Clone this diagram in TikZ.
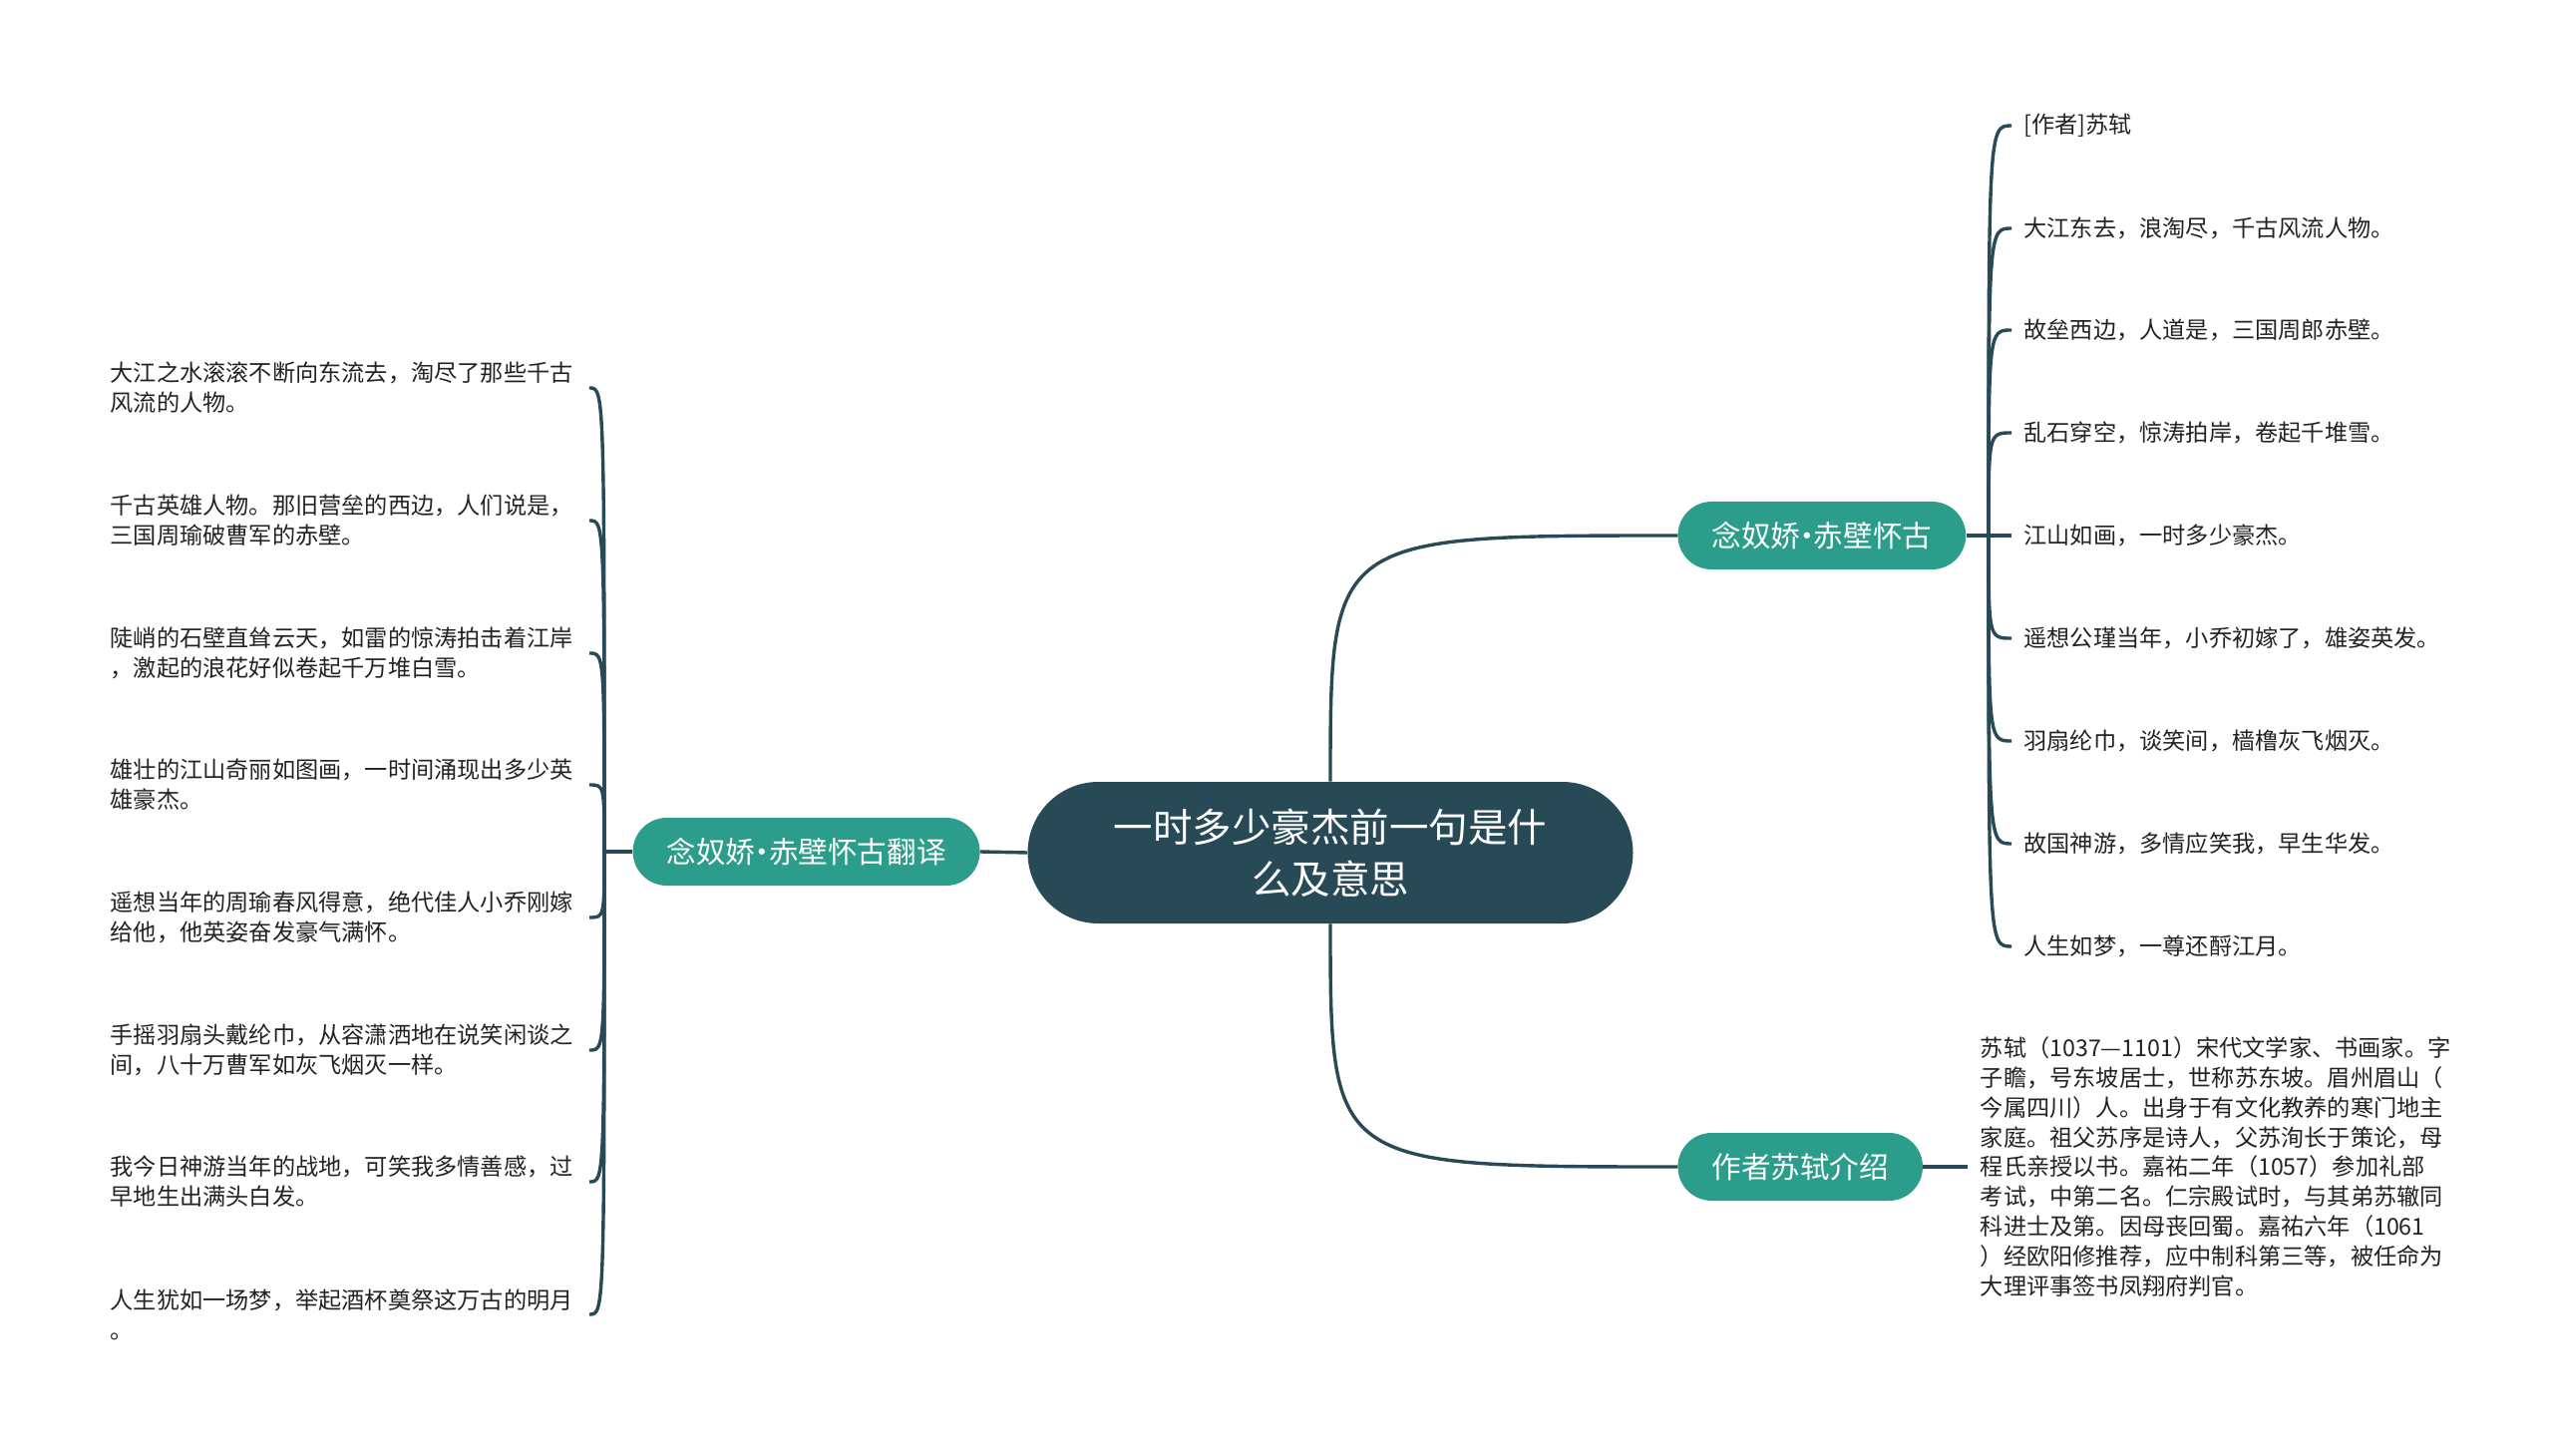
\documentclass[tikz,border=0pt]{standalone}
\usepackage{fontspec}
\setmainfont{Noto Sans CJK SC}
\usetikzlibrary{positioning}
\definecolor{HubSlate}{RGB}{40,74,86}
\definecolor{BranchTeal}{RGB}{43,157,138}
\definecolor{LeafInk}{RGB}{34,34,34}
\newcommand{\middot}{\kern-0.27em·\kern-0.27em}

\begin{document}
\begin{tikzpicture}[x=0.5pt,y=-0.5pt,
    hub/.style={rounded corners=35.5pt,fill=HubSlate,text=white,align=center,
                font=\fontsize{19.75pt}{26pt}\selectfont,
                minimum width=303.5pt,minimum height=71pt},
    br/.style={rounded corners=17pt,fill=BranchTeal,text=white,
               font=\fontsize{14.8pt}{18pt}\selectfont,
               inner xsep=17pt,minimum height=34pt},
    leaf/.style={text=LeafInk,align=left,font=\fontsize{11.6pt}{14.9pt}\selectfont,
                 inner xsep=6pt,inner ysep=2pt},
    lf/.style={leaf,text width=234pt,anchor=east},
    rt/.style={leaf,anchor=west},
    link/.style={HubSlate,line width=1.7pt}
  ]
  \useasboundingbox (0,0) rectangle (2560,1460);

  % Centre
  \node[hub] (hub) at (1334,855) {一时多少豪杰前一句是什\\么及意思};

  % Branches
  \node[br,anchor=west] (rtitle) at (1682,537) {念奴娇\middot 赤壁怀古};
  \node[br,anchor=west] (rauth) at (1682,1170) {作者苏轼介绍};
  \node[br,anchor=east] (ltitle) at (983,854) {念奴娇\middot 赤壁怀古翻译};
  \draw[link] (hub.north) .. controls (hub.north |- rtitle.west) .. (rtitle.west);
  \draw[link] (hub.south) .. controls (hub.south |- rauth.west) .. (rauth.west);
  \draw[link] (hub.west) -- (ltitle.east);

  % Poem
  \node[rt] (r1) at (2017,126) {[作者]苏轼};
  \node[rt] (r2) at (2017,229) {大江东去，浪淘尽，千古风流人物。};
  \node[rt] (r3) at (2017,331) {故垒西边，人道是，三国周郎赤壁。};
  \node[rt] (r4) at (2017,434) {乱石穿空，惊涛拍岸，卷起千堆雪。};
  \node[rt] (r5) at (2017,537) {江山如画，一时多少豪杰。};
  \node[rt] (r6) at (2017,640) {遥想公瑾当年，小乔初嫁了，雄姿英发。};
  \node[rt] (r7) at (2017,743) {羽扇纶巾，谈笑间，樯橹灰飞烟灭。};
  \node[rt] (r8) at (2017,846) {故国神游，多情应笑我，早生华发。};
  \node[rt] (r9) at (2017,949) {人生如梦，一尊还酹江月。};
  \coordinate (rfork) at (1994,537);
  \draw[link] (rtitle.east) -- (rfork);
  \foreach \i in {1,...,9}
    \draw[link] (rfork) .. controls (rfork |- r\i.west) .. (r\i.west);

  % Author
  \node[rt,right=22.5pt of rauth] (bio) {苏轼（1037—1101）宋代文学家、书画家。字\\
    子瞻，号东坡居士，世称苏东坡。眉州眉山（\\
    今属四川）人。出身于有文化教养的寒门地主\\
    家庭。祖父苏序是诗人，父苏洵长于策论，母\\
    程氏亲授以书。嘉祐二年（1057）参加礼部\\
    考试，中第二名。仁宗殿试时，与其弟苏辙同\\
    科进士及第。因母丧回蜀。嘉祐六年（1061\\
    ）经欧阳修推荐，应中制科第三等，被任命为\\
    大理评事签书凤翔府判官。};
  \draw[link] (rauth.east) -- (bio.west);

  % Translation
  \node[lf] (l1) at (591,389) {大江之水滚滚不断向东流去，淘尽了那些千古\\风流的人物。};
  \node[lf] (l2) at (591,522) {千古英雄人物。那旧营垒的西边，人们说是，\\三国周瑜破曹军的赤壁。};
  \node[lf] (l3) at (591,655) {陡峭的石壁直耸云天，如雷的惊涛拍击着江岸\\，激起的浪花好似卷起千万堆白雪。};
  \node[lf] (l4) at (591,787) {雄壮的江山奇丽如图画，一时间涌现出多少英\\雄豪杰。};
  \node[lf] (l5) at (591,920) {遥想当年的周瑜春风得意，绝代佳人小乔刚嫁\\给他，他英姿奋发豪气满怀。};
  \node[lf] (l6) at (591,1053) {手摇羽扇头戴纶巾，从容潇洒地在说笑闲谈之\\间，八十万曹军如灰飞烟灭一样。};
  \node[lf] (l7) at (591,1185) {我今日神游当年的战地，可笑我多情善感，过\\早地生出满头白发。};
  \node[lf] (l8) at (591,1318) {人生犹如一场梦，举起酒杯奠祭这万古的明月\\。};
  \coordinate (lfork) at (606,854);
  \draw[link] (ltitle.west) -- (lfork);
  \foreach \i in {1,...,8}
    \draw[link] (lfork) .. controls (lfork |- l\i.east) .. (l\i.east);
\end{tikzpicture}
\end{document}
